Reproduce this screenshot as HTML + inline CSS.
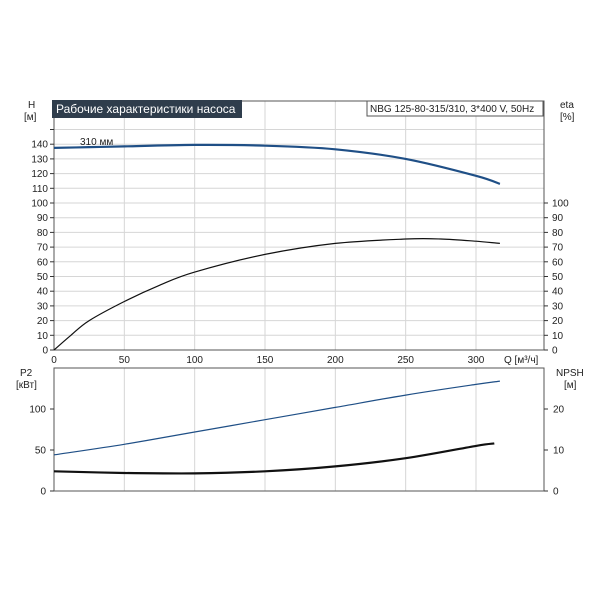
<!DOCTYPE html>
<html><head><meta charset="utf-8"><style>
body{margin:0;background:#fff;}
svg text{font-family:"Liberation Sans","DejaVu Sans",sans-serif;font-size:10px;fill:#222;}
</style></head><body>
<svg id="c" width="600" height="600" xmlns="http://www.w3.org/2000/svg"></svg>
<script>
const qTicks=[0,50,100,150,200,250,300];
const hTicks=[0,10,20,30,40,50,60,70,80,90,100,110,120,130,140];
const etaTicks=[0,10,20,30,40,50,60,70,80,90,100];
const p2Ticks=[0,50,100];
const npshTicks=[0,10,20];
const hQ=[0,25,50,100,150,200,250,300,317];
const hVal=[137.5,138,138.5,139.5,139,136.5,130,118.5,113];
const etaQ=[0,12,25,50,75,100,150,200,250,275,300,317];
const etaVal=[0,10,20,33,44,53,65,72.5,75.5,75.5,74,72.5];
const p2Q=[0,50,100,150,200,250,300,317];
const p2Val=[44,57,72,87,102,117,130,134];
const npQ=[0,50,100,150,200,250,300,313];
const npVal=[4.8,4.4,4.3,4.8,6,8,11,11.6];

const NS="http://www.w3.org/2000/svg";
const svg=document.getElementById('c');
function mk(t,a,parent){const e=document.createElementNS(NS,t);for(const k in a)e.setAttribute(k,a[k]);(parent||svg).appendChild(e);return e;}
const X0=54,X1=544;
const xs=q=>X0+q*(476-X0)/300;
const yH=v=>350-v*1.47;
const yP=v=>491-v*0.82;
const yN=v=>491-v*4.1;

for(const q of qTicks){if(q===0)continue;const l=mk('line',{x1:xs(q),x2:xs(q),y1:101,y2:350,stroke:'#d6d6d6'});

}
for(let v=10;v<=150;v+=10){const l=mk('line',{x1:X0,x2:X1,y1:yH(v),y2:yH(v),stroke:'#d6d6d6'});

}
mk('rect',{x:X0,y:101,width:X1-X0,height:249,fill:'none',stroke:'#555'});
for(const v of hTicks){mk('line',{x1:X0-4,x2:X0,y1:yH(v),y2:yH(v),stroke:'#333'});
const t=mk('text',{x:X0-6,y:yH(v)+3.5,'text-anchor':'end'});t.textContent=v;

}
mk('line',{x1:X0-4,x2:X0,y1:yH(150),y2:yH(150),stroke:'#333'});
for(const v of etaTicks){mk('line',{x1:X1,x2:X1+4,y1:yH(v),y2:yH(v),stroke:'#333'});
const t=mk('text',{x:X1+8,y:yH(v)+3.5});t.textContent=v;

}
for(const q of qTicks){const t=mk('text',{x:xs(q),y:363,'text-anchor':'middle'});t.textContent=q;

}
let t;
t=mk('text',{x:504,y:363});t.textContent='Q [м³/ч]';
t=mk('text',{x:28,y:108});t.textContent='H';
t=mk('text',{x:24,y:120});t.textContent='[м]';
t=mk('text',{x:560,y:108});t.textContent='eta';
t=mk('text',{x:560,y:120});t.textContent='[%]';
const tb=mk('rect',{x:52,y:100,width:190,height:18,fill:'#2f3d4c'});

t=mk('text',{x:56,y:113,style:'fill:#fff;font-size:12px'});t.textContent='Рабочие характеристики насоса';

const lb=mk('rect',{x:367,y:101,width:176,height:15,fill:'#fff',stroke:'#555'});

t=mk('text',{x:370,y:112});t.textContent='NBG 125-80-315/310, 3*400 V, 50Hz';

t=mk('text',{x:80,y:145});t.textContent='310 мм';


function line(Q,V,yf,color,w,name){
  const P=Q.map((q,i)=>[xs(q),yf(V[i])]);
  let d='M'+P[0][0].toFixed(1)+','+P[0][1].toFixed(1);
  for(let i=0;i<P.length-1;i++){
    const p0=P[i-1]||P[i],p1=P[i],p2=P[i+1],p3=P[i+2]||P[i+1];
    const c1=[p1[0]+(p2[0]-p0[0])/6,p1[1]+(p2[1]-p0[1])/6];
    const c2=[p2[0]-(p3[0]-p1[0])/6,p2[1]-(p3[1]-p1[1])/6];
    d+=' C'+c1.map(v=>v.toFixed(1)).join(',')+' '+c2.map(v=>v.toFixed(1)).join(',')+' '+p2.map(v=>v.toFixed(1)).join(',');
  }
  const p=mk('path',{d:d,fill:'none',stroke:color,'stroke-width':w,'stroke-linejoin':'round'});
  
  
}
line(hQ,hVal,yH,'#1f4f86',2.2,'head-curve');
line(etaQ,etaVal,yH,'#111',1.2,'efficiency-curve');

const BT=368,BB=491;
for(const q of qTicks){if(q===0)continue;const l=mk('line',{x1:xs(q),x2:xs(q),y1:BT,y2:BB,stroke:'#d6d6d6'});

}
mk('rect',{x:X0,y:BT,width:X1-X0,height:BB-BT,fill:'none',stroke:'#555'});
for(const v of p2Ticks){mk('line',{x1:X0-4,x2:X0,y1:yP(v),y2:yP(v),stroke:'#333'});
const tt=mk('text',{x:X0-8,y:yP(v)+3.5,'text-anchor':'end'});tt.textContent=v;

}
for(const v of npshTicks){mk('line',{x1:X1,x2:X1+4,y1:yN(v),y2:yN(v),stroke:'#333'});
const tt=mk('text',{x:X1+9,y:yN(v)+3.5});tt.textContent=v;

}
t=mk('text',{x:20,y:376});t.textContent='P2';
t=mk('text',{x:16,y:388});t.textContent='[кВт]';
t=mk('text',{x:556,y:376});t.textContent='NPSH';
t=mk('text',{x:564,y:388});t.textContent='[м]';
line(p2Q,p2Val,yP,'#1f4f86',1.2,'power-curve');
line(npQ,npVal,yN,'#111',2.2,'npsh-curve');
</script>
</body></html>
